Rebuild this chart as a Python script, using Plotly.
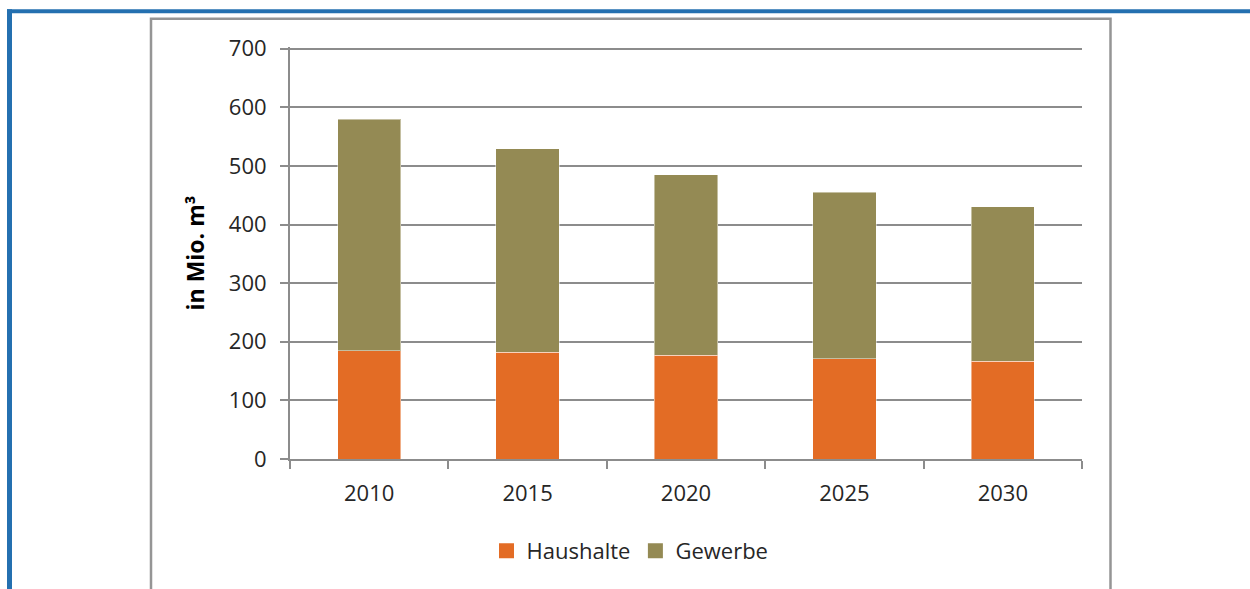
import plotly.graph_objects as go

years = ["2010", "2015", "2020", "2025", "2030"]
haushalte = [185, 182, 177, 171, 167]
totals = [580, 529, 485, 455, 430]
gewerbe = [t - h for t, h in zip(totals, haushalte)]

series_names = ["Haushalte", "Gewerbe"]
colors = ["#E36C25", "#948A54"]

YMAX = 703
W, H = 1250, 589
L, R, B = 290, 1082, 459
T = B - YMAX * (410 / 700)  # plot area top in px


def xp(px):
    return (px - L) / (R - L)


def yp(py):
    return (B - py) / (B - T)


fig = go.Figure()
for name, vals, col in zip(series_names, [haushalte, gewerbe], colors):
    fig.add_trace(go.Bar(
        x=years, y=vals, name=name, showlegend=False,
        marker=dict(color=col, line=dict(color="rgba(255,255,255,0.45)", width=1)),
    ))
# legend entries with larger square symbols
for name, col in zip(series_names, colors):
    fig.add_trace(go.Scatter(
        x=[None], y=[None], mode="markers", name=name,
        marker=dict(symbol="square", size=15, color=col),
    ))

grid = "#8C8C8C"
font = "Open Sans, DejaVu Sans, sans-serif"
txt = "#262626"

shapes = [
    dict(type="line", xref="paper", yref="paper", x0=xp(7), x1=xp(1260), y0=yp(11.5), y1=yp(11.5),
         line=dict(color="#2470B0", width=4), layer="above"),
    dict(type="line", xref="paper", yref="paper", x0=xp(9.5), x1=xp(9.5), y0=yp(9.5), y1=yp(600),
         line=dict(color="#2470B0", width=5), layer="above"),
    dict(type="path", xref="paper", yref="paper",
         path=f"M {xp(151)} {yp(600)} L {xp(151)} {yp(19)} L {xp(1110.5)} {yp(19)} L {xp(1110.5)} {yp(600)}",
         line=dict(color="#959595", width=2.5), layer="below"),
]

fig.update_layout(
    width=W, height=H,
    barmode="stack",
    bargap=0.6,
    paper_bgcolor="white",
    plot_bgcolor="white",
    margin=dict(l=L, r=W - R, t=T, b=H - B, pad=0),
    font=dict(family=font, size=22, color=txt),
    showlegend=True,
    legend=dict(
        orientation="h", x=xp(630), xanchor="center", y=yp(551), yanchor="middle",
        font=dict(size=22, family=font, color=txt),
        itemwidth=30, traceorder="normal", bgcolor="rgba(0,0,0,0)",
    ),
    shapes=shapes,
    xaxis=dict(
        type="category",
        showline=True, linecolor=grid, linewidth=2,
        ticks="outside", tickson="boundaries", ticklen=8, tickwidth=2, tickcolor=grid,
        showgrid=False,
        tickfont=dict(size=22, family=font, color=txt),
        ticklabelstandoff=14,
    ),
    yaxis=dict(
        range=[0, YMAX], tickvals=[0, 100, 200, 300, 400, 500, 600, 700],
        showline=True, linecolor=grid, linewidth=2,
        ticks="outside", ticklen=8, tickwidth=2, tickcolor=grid,
        showgrid=True, gridcolor=grid, gridwidth=2,
        zeroline=False,
        tickfont=dict(size=22, family=font, color=txt),
        ticklabelstandoff=9,
        title=dict(text="<b>in Mio. m³</b>", font=dict(size=23, family=font, color="#000000"), standoff=18),
    ),
)

fig.write_html("out.html", config={"displayModeBar": False},
               post_script="document.body.style.margin='0';document.body.style.overflow='hidden';")
